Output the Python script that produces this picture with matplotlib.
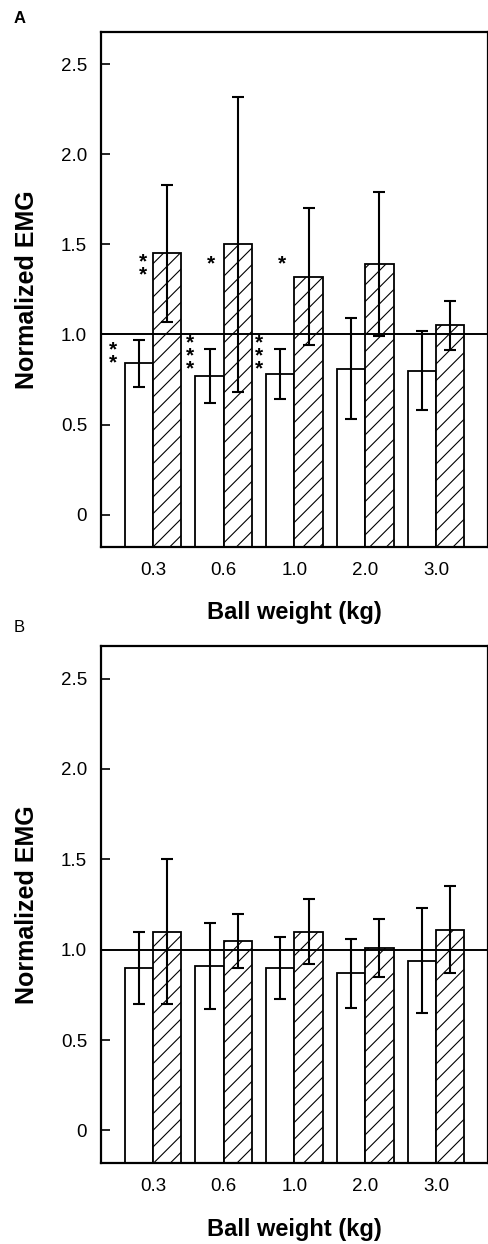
import numpy as np
from matplotlib import pyplot as plt

plt.rcParams['font.family'] = ['Liberation Sans', 'DejaVu Sans']
plt.rcParams['hatch.linewidth'] = 0.8

# ball weights (kg) used as category labels
weights = ['0.3', '0.6', '1.0', '2.0', '3.0']

# panel A: normalized EMG, open = condition 1, hatched = condition 2
a_open = [0.84, 0.77, 0.78, 0.81, 0.80]
a_open_sd = [0.13, 0.15, 0.14, 0.28, 0.22]
a_hatch = [1.45, 1.50, 1.32, 1.39, 1.05]
a_hatch_sd = [0.38, 0.82, 0.38, 0.40, 0.135]

# panel B
b_open = [0.90, 0.91, 0.90, 0.87, 0.94]
b_open_sd = [0.20, 0.24, 0.17, 0.19, 0.29]
b_hatch = [1.10, 1.05, 1.10, 1.01, 1.11]
b_hatch_sd = [0.40, 0.15, 0.18, 0.16, 0.24]

# significance marks for panel A: (x position, y centre, text)
a_stars = [(-0.14, 1.365, '*\n*'), (0.82, 1.39, '*'), (1.82, 1.39, '*'),
           (-0.57, 0.88, '*\n*'), (0.52, 0.88, '*\n*\n*'), (1.50, 0.88, '*\n*\n*')]

YMIN, YMAX = -0.18, 2.68
W = 0.4


def draw_panel(ax, open_vals, open_sd, hatch_vals, hatch_sd):
    x = np.arange(len(weights))
    ho = np.array(open_vals) - YMIN
    hh = np.array(hatch_vals) - YMIN
    ax.bar(x - W / 2, ho, W, bottom=YMIN, color='white', edgecolor='black',
           linewidth=1.3, zorder=2)
    ax.bar(x + W / 2, hh, W, bottom=YMIN, color='white', edgecolor='black',
           hatch='//', linewidth=1.3, zorder=2)
    ax.errorbar(x - W / 2, open_vals, yerr=open_sd, fmt='none', ecolor='black',
                elinewidth=1.5, capsize=4, capthick=1.5, zorder=4)
    ax.errorbar(x + W / 2, hatch_vals, yerr=hatch_sd, fmt='none', ecolor='black',
                elinewidth=1.5, capsize=4.5, capthick=1.5, zorder=4)
    ax.axhline(1.0, color='black', linewidth=1.4, zorder=3)

    ax.set_xlim(-0.735, 4.735)
    ax.set_ylim(YMIN, YMAX)
    ax.set_xticks(x)
    ax.set_xticklabels(weights)
    ax.set_yticks([0, 0.5, 1.0, 1.5, 2.0, 2.5])
    ax.set_yticklabels(['0', '0.5', '1.0', '1.5', '2.0', '2.5'])
    ax.tick_params(axis='y', direction='in', length=6.5, width=1.2,
                   labelsize=13.5, pad=10)
    ax.tick_params(axis='x', length=0, labelsize=13.5, pad=11)
    for s in ax.spines.values():
        s.set_linewidth(1.6)
    ax.set_xlabel('Ball weight (kg)', fontsize=17, fontweight='bold', labelpad=16)
    ax.set_ylabel('Normalized EMG', fontsize=18, fontweight='bold', labelpad=16)


fig = plt.figure(figsize=(4.89, 12.44), dpi=100)
ax_a = fig.add_axes([0.2065, 0.5603, 0.7914, 0.414])
ax_b = fig.add_axes([0.2065, 0.0651, 0.7914, 0.4156])

draw_panel(ax_a, a_open, a_open_sd, a_hatch, a_hatch_sd)
draw_panel(ax_b, b_open, b_open_sd, b_hatch, b_hatch_sd)

for sx, sy, st in a_stars:
    ax_a.text(sx, sy, st, ha='center', va='center', fontsize=15,
              fontweight='bold', linespacing=0.6, zorder=5)

fig.text(0.027, 0.9855, 'A', fontsize=12, fontweight='bold', va='center')
fig.text(0.027, 0.4952, 'B', fontsize=12, va='center')

plt.savefig('out.png', dpi=100)
